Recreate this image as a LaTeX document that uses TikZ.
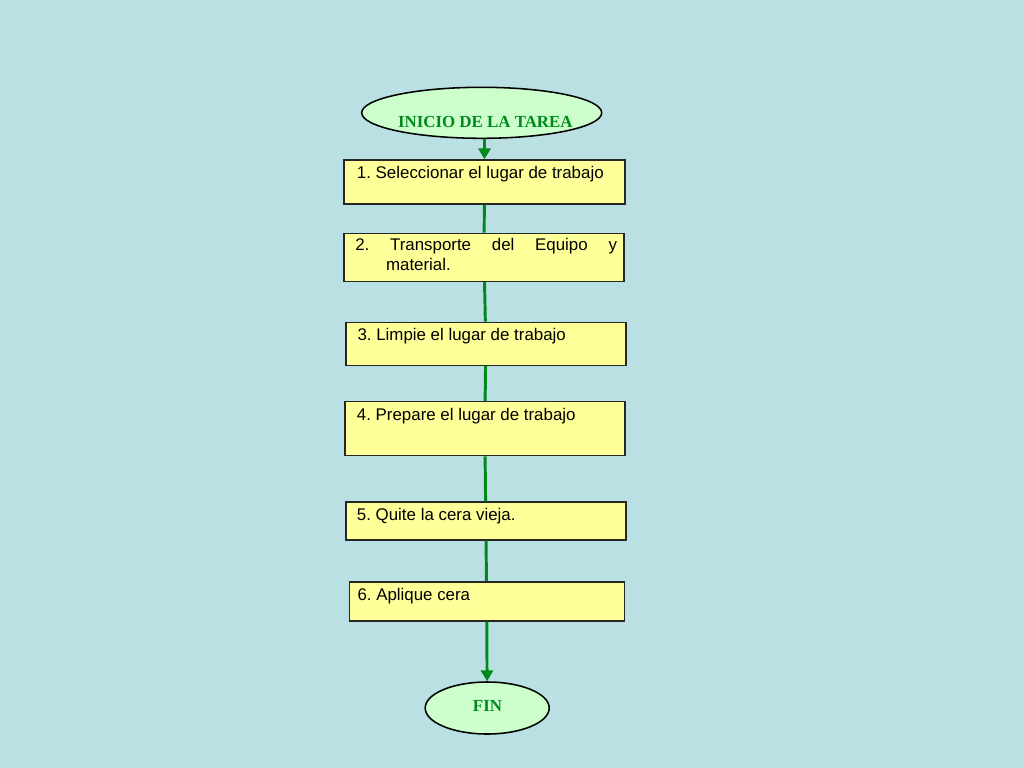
\documentclass[tikz,border=0pt]{standalone}
\usepackage{fontspec}
\setmainfont{Liberation Sans}
\newfontfamily\titulofont{Liberation Serif}
\usepackage{tikz}
\usetikzlibrary{shapes.geometric,arrows.meta}
\definecolor{fondo}{HTML}{BBE0E3}
\definecolor{amarillo}{HTML}{FFFF99}
\definecolor{verdeclaro}{HTML}{CCFFCC}
\definecolor{verde}{HTML}{008A1E}
\newcommand{\pxu}{0.025cm}
\frenchspacing

\begin{document}
\begin{tikzpicture}[x=0.025cm,y=-0.025cm,
  paso/.style={draw=black!85,line width=1pt,fill=amarillo,inner sep=0pt},
  extremo/.style={ellipse,draw=black,line width=1.1pt,fill=verdeclaro,inner sep=0pt},
  texto/.style={anchor=base west,inner sep=0pt,font=\fontsize{12}{14.4}\selectfont},
  titulo/.style={anchor=base,inner sep=0pt,text=verde,font=\titulofont\bfseries\fontsize{12}{14.4}\selectfont},
  linea/.style={draw=verde,line width=2.1pt},
  flecha/.style={linea,-{Triangle[length=0.27cm,width=0.3cm]}}]
\fill[fondo] (0,0) rectangle (1024,768);

\node[extremo,minimum width=240*\pxu,minimum height=51*\pxu] (inicio) at (481.7,112.8) {};
\node[paso,minimum width=281*\pxu,minimum height=44*\pxu] (paso1) at (484.5,182) {};
\node[paso,minimum width=280*\pxu,minimum height=48*\pxu] (paso2) at (484,257.3) {};
\node[paso,minimum width=280*\pxu,minimum height=43*\pxu] (paso3) at (485.8,343.8) {};
\node[paso,minimum width=280*\pxu,minimum height=54*\pxu] (paso4) at (484.8,428.7) {};
\node[paso,minimum width=280*\pxu,minimum height=38*\pxu] (paso5) at (485.8,521) {};
\node[paso,minimum width=275*\pxu,minimum height=39*\pxu] (paso6) at (486.7,601.3) {};
\node[extremo,minimum width=124*\pxu,minimum height=52*\pxu] (fin) at (487.2,708) {};

\draw[flecha] (inicio.south -| paso1.north) -- (paso1.north);
\foreach \a/\b in {paso1/paso2,paso2/paso3,paso3/paso4,paso4/paso5,paso5/paso6}
  \draw[linea] (\a) -- (\b);
\draw[flecha] (paso6) -- (fin);

\node[titulo] (tinicio) at (485.3,128) {INICIO DE LA TAREA};
\node[titulo] (tfin) at (487.5,711.7) {FIN};
\node[texto] (t1) at (356.7,179) {1. Seleccionar el lugar de trabajo};
\node[texto,text width=261.7*\pxu,align=justify] (t2) at (355,250.7)
  {\hangindent=0.77cm\hangafter=1 2. Transporte del Equipo y\linebreak material.\par};
\node[texto] (t3) at (357.3,340) {3. Limpie el lugar de trabajo};
\node[texto] (t4) at (356.7,420) {4. Prepare el lugar de trabajo};
\node[texto] (t5) at (356.7,520) {5. Quite la cera vieja.};
\node[texto] (t6) at (357.3,600) {6. Aplique cera};
\end{tikzpicture}
\end{document}
